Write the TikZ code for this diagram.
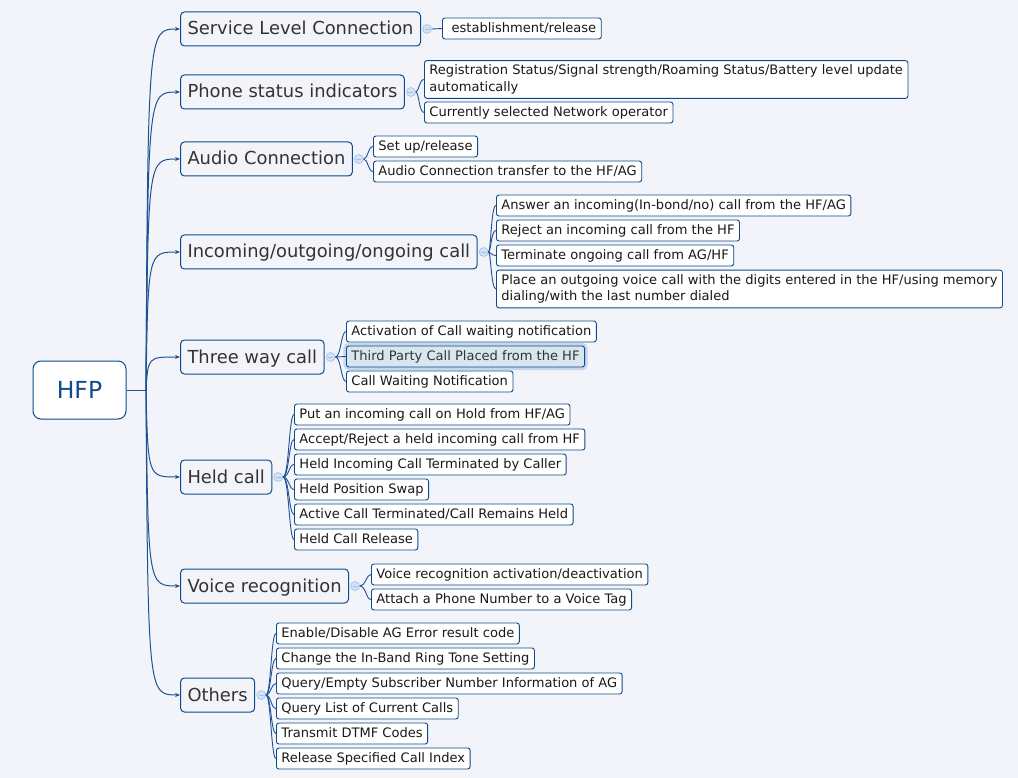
\documentclass[tikz,border=0pt]{standalone}
\usepackage{fontspec}
\setmainfont{DejaVu Sans}
\usetikzlibrary{arrows.meta}
\definecolor{bg}{HTML}{F2F4FA}
\definecolor{edge}{HTML}{0E4A8C}
\definecolor{conn}{HTML}{1D5294}
\definecolor{subtxt}{HTML}{333333}
\definecolor{hlfill}{HTML}{D8E6F0}
\definecolor{glow}{HTML}{C4D7EC}
\definecolor{colfill}{HTML}{D3E2F5}
\definecolor{coldraw}{HTML}{A3C0E4}
\tikzset{
  rootbox/.style={draw=edge, line width=1pt, fill=white, rounded corners=8pt,
    font=\fontsize{23.5}{28}\selectfont, text=edge, minimum width=93pt, minimum height=58pt, inner sep=0pt},
  subbox/.style={draw=edge, line width=1pt, fill=bg, rounded corners=4pt, anchor=west,
    font=\fontsize{17.9}{21}\selectfont, text=subtxt, inner xsep=7pt, inner ysep=0pt,
    text height=14.5pt, text depth=2.5pt, minimum height=34pt},
  leafbox/.style={draw=edge, line width=0.9pt, fill=white, rounded corners=2.5pt, anchor=west,
    font=\fontsize{13.05}{16.5}\selectfont, text=black!90, inner xsep=5pt, inner ysep=4.3pt, align=left},
  oneline/.style={text height=10.4pt, text depth=2pt, inner ysep=0pt, minimum height=21pt},
  hl/.style={fill=hlfill, text=subtxt, preaction={draw=glow, line width=6pt}},
  collapse/.style={circle, draw=coldraw, fill=colfill, line width=0.6pt, minimum size=9pt, inner sep=0pt,
    path picture={\draw[coldraw, line width=0.8pt] ([xshift=-2.5pt]path picture bounding box.center) -- ([xshift=2.5pt]path picture bounding box.center);}},
  mainline/.style={draw=conn, line width=1pt, -{Stealth[length=5pt,width=4pt]}},
  leafline/.style={draw=conn, line width=0.9pt},
}
\newcommand{\leafcurve}[2]{\draw[leafline] (#1.east) .. controls ([xshift=-5pt]#2.west |- #1.east) and ([xshift=-5pt]#2.west) .. (#2.west);}
\begin{document}
\begin{tikzpicture}[x=1pt,y=-1pt]
\useasboundingbox[fill=bg] (0,0) rectangle (1018,778);

\node[rootbox] (root) at (79.5,390) {HFP};
\coordinate (hub) at (146,390);
\draw[conn, line width=1pt] (root.east) -- (hub);

% subtopics
\node[subbox] (s1) at (180,29) {Service Level Connection};
\node[subbox] (s2) at (180,92) {Phone status indicators};
\node[subbox] (s3) at (180,159) {Audio Connection};
\node[subbox] (s4) at (180,252) {Incoming/outgoing/ongoing call};
\node[subbox] (s5) at (180,357) {Three way call};
\node[subbox] (s6) at (180,477) {Held call};
\node[subbox] (s7) at (180,586) {Voice recognition};
\node[subbox] (s8) at (180,695) {Others};

\foreach \s/\y in {s1/29,s2/92,s3/159,s4/252,s5/357,s6/477,s7/586,s8/695}{
  \draw[mainline] (hub) .. controls (148,\y) .. (\s.west);
}

% collapse markers
\foreach \i in {1,...,8}{
  \node[collapse] (c\i) at ([xshift=6pt]s\i.east) {};
}

% leaves
\node[leafbox,oneline] (l11) at (442,28.5) {\ establishment/release};

\node[leafbox] (l21) at (424,79.5) {Registration Status/Signal strength/Roaming Status/Battery level update\\automatically};
\node[leafbox,oneline] (l22) at (424,112.5) {Currently selected Network operator};

\node[leafbox,oneline] (l31) at (373,146.5) {Set up/release};
\node[leafbox,oneline] (l32) at (373,171.5) {Audio Connection transfer to the HF/AG};

\node[leafbox,oneline] (l41) at (496,205.5) {Answer an incoming(In-bond/no) call from the HF/AG};
\node[leafbox,oneline] (l42) at (496,230.5) {Reject an incoming call from the HF};
\node[leafbox,oneline] (l43) at (496,255.5) {Terminate ongoing call from AG/HF};
\node[leafbox] (l44) at (496,289) {Place an outgoing voice call with the digits entered in the HF/using memory\\dialing/with the last number dialed};

\node[leafbox,oneline] (l51) at (346,331.5) {Activation of Call waiting notification};
\node[leafbox,oneline,hl] (l52) at (346,356.5) {Third Party Call Placed from the HF};
\node[leafbox,oneline] (l53) at (346,381.5) {Call Waiting Notification};

\node[leafbox,oneline] (l61) at (294,414.5) {Put an incoming call on Hold from HF/AG};
\node[leafbox,oneline] (l62) at (294,439.5) {Accept/Reject a held incoming call from HF};
\node[leafbox,oneline] (l63) at (294,464.5) {Held Incoming Call Terminated by Caller};
\node[leafbox,oneline] (l64) at (294,489.5) {Held Position Swap};
\node[leafbox,oneline] (l65) at (294,514.5) {Active Call Terminated/Call Remains Held};
\node[leafbox,oneline] (l66) at (294,539.5) {Held Call Release};

\node[leafbox,oneline] (l71) at (371,574.5) {Voice recognition activation/deactivation};
\node[leafbox,oneline] (l72) at (371,599.5) {Attach a Phone Number to a Voice Tag};

\node[leafbox,oneline] (l81) at (276,633.5) {Enable/Disable AG Error result code};
\node[leafbox,oneline] (l82) at (276,658.5) {Change the In-Band Ring Tone Setting};
\node[leafbox,oneline] (l83) at (276,683.5) {Query/Empty Subscriber Number Information of AG};
\node[leafbox,oneline] (l84) at (276,708.5) {Query List of Current Calls};
\node[leafbox,oneline] (l85) at (276,733.5) {Transmit DTMF Codes};
\node[leafbox,oneline] (l86) at (276,758.5) {Release Specified Call Index};

% leaf connectors
\leafcurve{c1}{l11}
\leafcurve{c2}{l21}
\leafcurve{c2}{l22}
\leafcurve{c3}{l31}
\leafcurve{c3}{l32}
\foreach \j in {1,...,4}{\leafcurve{c4}{l4\j}}
\foreach \j in {1,...,3}{\leafcurve{c5}{l5\j}}
\foreach \j in {1,...,6}{\leafcurve{c6}{l6\j}}
\foreach \j in {1,2}{\leafcurve{c7}{l7\j}}
\foreach \j in {1,...,6}{\leafcurve{c8}{l8\j}}
\end{tikzpicture}
\end{document}
